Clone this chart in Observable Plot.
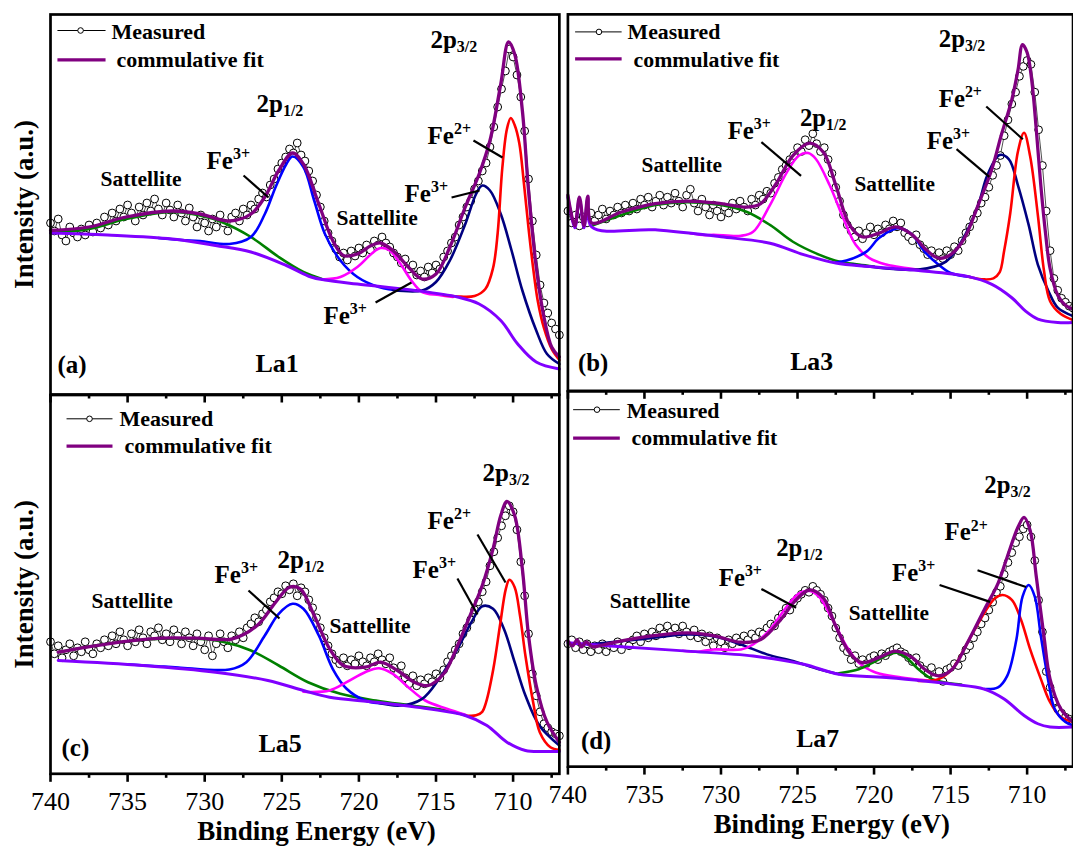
<!DOCTYPE html>
<html><head><meta charset="utf-8">
<script src="https://cdn.jsdelivr.net/npm/d3@7"></script>
<script src="https://cdn.jsdelivr.net/npm/@observablehq/plot@0.6"></script>
<style>
html,body{margin:0;padding:0;background:#fff;overflow:hidden}
#wrap{position:relative;width:1073px;height:847px;overflow:hidden;background:#fff}
#wrap svg{position:absolute;left:0;top:0}
</style></head><body><div id="wrap"></div>
<script>
// ---------- axis ----------
const energyStart = 740, energyStep = 0.25;
const xDomain = [740, 707];
const majorTicks = [740, 735, 730, 725, 720, 715, 710];
const minorTicks = [737.5, 732.5, 727.5, 722.5, 717.5, 712.5, 707.5];

// ---------- measured intensities (a.u.), 740 -> 707 eV, 0.25 eV step ----------
const measA = [170,162,174,158,152,166,160,156, 164,158,168,161,170,165,176,168, 180,172,184,176,188,180,172,186,
 178,190,182,194,184,178,190,183, 176,188,180,172,185,176,166,178, 170,162,174,166,178,170,162,176,
 180,172,184,178,188,184,194,200, 196,208,214,224,230,236,244,240, 250,238,232,222,212,198,186,172,
 160,152,144,136,140,133,142,137, 145,140,148,143,152,148,156,150, 146,140,136,130,134,124,128,118,
 122,116,126,120,128,124,136,142, 150,156,168,176,186,192,204,212, 222,230,246,266,286,304,322,344,
 336,318,296,262,214,172,138,108, 90,80,70,64,58];
const measB = [180,168,176,165,174,168,178,170, 176,182,172,180,176,184,178,186, 180,188,182,192,186,194,184,190,
 196,186,194,188,198,190,184,196, 202,188,180,192,184,176,186,180, 174,184,178,188,182,190,184,180,
 192,186,196,192,200,198,208,214, 222,226,232,236,244,240,252,246, 258,248,240,244,232,218,204,190,
 176,166,160,154,160,152,158,164, 156,162,158,166,162,170,164,168, 158,154,150,156,146,142,136,140,
 134,138,132,140,136,144,140,150, 158,164,172,178,188,194,204,216, 226,236,256,272,288,300,316,326,
 332,328,300,262,226,180,140,112, 100,92,88,84,82];
const measC = [132,120,128,116,124,130,118,126, 122,132,124,120,130,126,134,128, 138,130,142,134,128,140,132,144,
 136,130,142,138,146,134,140,132, 144,138,130,142,136,128,140,132, 124,138,118,130,140,132,126,138,
 134,142,136,146,150,156,152,160, 164,172,176,182,180,188,184,190, 178,186,182,174,166,156,146,136,
 128,120,114,110,116,108,114,110, 118,112,108,116,112,120,114,110, 116,106,100,108,96,90,98,88,
 94,90,96,92,100,96,104,112, 118,124,130,140,146,154,164,172, 182,192,208,222,236,248,258,268,
 262,244,212,178,140,100,78,62, 50,46,42,40,38];
const measD = [124,128,120,126,118,124,116,122, 118,124,116,122,120,126,118,124, 122,128,132,126,134,130,136,132,
 140,134,142,136,140,134,142,136, 132,138,130,134,126,132,122,130, 126,120,128,124,130,126,132,128,
 134,130,136,134,140,144,142,150, 154,160,158,166,170,174,178,176, 182,178,174,168,160,152,140,130,
 120,116,108,112,104,108,104,110, 112,108,114,112,116,118,120,116, 114,110,106,110,102,98,94,100,
 90,96,86,98,100,104,102,110, 118,122,130,136,144,150,158,166, 176,182,194,206,216,226,232,240,
 244,232,208,168,136,96,80,66, 58,54,50,48,46];

// ---------- fitted curves [eV, intensity] ----------
// (a) La1
const fitA = [[740,162.5],[737.5,166],[735.1,176],[732.1,182],[730.3,179],[728.4,172],[727,179],[726.1,196],[725.2,222.5],[724.3,240],[723.6,229],[722.6,189],[721.7,152.5],[721,137.5],[720.1,139],[719.2,147.5],[718.6,150],[717.8,142.5],[716.8,126],[715.9,114],[715,119],[714.1,146],[713.1,186],[712.2,219],[711.5,252.5],[710.8,309],[710.3,351],[709.9,339],[709.4,282.5],[709,202.5],[708.5,126],[708,76],[707.5,46],[707,36]];
const bgA = [[740,160],[736.3,158],[732.1,154],[729.3,147.5],[727,141],[724.7,127.5],[723.1,116],[722.2,113],[720.1,109],[716.6,103],[713.6,96],[712.2,89],[710.8,72.5],[709.7,49],[708.5,31],[707,24]];
const greenA = [[740,160],[737.5,164],[735.1,174],[732.1,181],[730.3,177.5],[728.9,171],[727,156],[725.2,136],[723.6,121],[722.4,114]];
const blueA = [[733,155],[731.5,153],[730.3,152],[728.4,149],[727,156],[726.1,179],[725.4,206],[724.7,229],[724.3,236.5],[723.6,226],[722.9,192.5],[722.2,159],[721.2,132.5],[720.1,116],[718.7,106],[717.3,102.5],[716.1,103]];
const magentaA = [[722.4,113.5],[721.2,116],[720.1,126],[719.2,139],[718.6,145],[718,142.5],[717.3,129],[716.6,112.5],[715.9,101],[714.8,98],[713.9,96]];
const navyA = [[717.8,103],[715.9,102.5],[715,111],[714.1,132.5],[713.1,169],[712.4,199],[712,207.5],[711.5,202.5],[710.8,179],[710.1,142.5],[709.4,102.5],[708.5,62.5],[707.8,39],[707,29]];
const redA = [[714.5,98],[713.6,96.5],[712.5,97],[711.8,104],[711.3,125],[711,160],[710.7,225],[710.4,264],[710.15,275],[709.9,268],[709.6,250],[709.3,210],[709,165],[708.7,125],[708.4,92],[708,65],[707.5,44],[707,33]];
// (b) La3
const fitB = [[740,196],[739.55,165],[739.25,194],[738.95,165],[738.7,195],[738.45,168],[736.5,179],[734.3,187.5],[732.2,190],[730,187.5],[728.3,184],[727.4,187.5],[726.4,207.5],[725.3,236],[724.2,248.5],[723.3,239],[722.5,206],[721.6,166],[720.8,154],[719.7,157.5],[718.6,164],[717.5,156],[716.7,142.5],[715.8,132.5],[715,136],[714.1,152.5],[713.2,186],[712.3,222.5],[711.7,256],[711,292.5],[710.6,322],[710.3,348],[710,340],[709.7,312],[709.4,262],[709.1,205],[708.8,158],[708.5,122],[708,95],[707.5,85],[707,81]];
const bgB = [[740,194],[739.55,163],[739.25,192],[738.95,163],[738.7,193],[738.45,164],[734.3,161],[730,154],[726.8,147.5],[724.6,136],[722.5,127.5],[720.3,124],[717.1,120],[713.9,114],[712.3,106],[711,92.5],[710.1,79],[709.3,71],[708,67.5],[707,67.5]];
const greenB = [[738.45,165],[736.5,176],[734.3,186],[732.2,189],[730,186],[728.3,179],[726.8,166],[725.3,149],[723.6,136],[722.3,129],[721,126],[720,124]];
const magentaB = [[732,157.5],[731,155.5],[730.5,156],[728.7,155],[727.9,159],[726.8,186],[725.7,219],[724.9,236],[724.3,238.5],[723.8,232.5],[722.9,206],[722,172.5],[721.2,146],[720.3,132.5],[719.2,126],[717.9,122.5],[716.5,119.5]];
const blueB = [[722.5,128],[721.8,130],[720.5,139],[719.7,152.5],[718.8,161],[718.3,162.5],[717.5,156],[716.7,139],[715.8,126],[715,117.5],[713.7,113.5]];
const navyB = [[721.4,126],[717.1,121],[715.3,129],[714.3,149],[713.2,186],[712.6,216],[711.8,236.5],[711.2,232.5],[710.6,206],[709.9,166],[709.3,126],[708.6,99],[708,82.5],[707,74]];
const redB = [[713.9,114],[712.8,111],[712.2,112],[711.8,118],[711.5,140],[711.1,178],[710.6,240],[710.2,259],[709.8,235],[709.3,176],[708.9,120],[708.5,89],[707.8,76],[707,70]];
// (c) La5
const fitC = [[739.5,121.6],[736.3,130],[732.8,135.6],[730.5,135.6],[728.2,135],[726.6,148.3],[725.4,171.6],[724.5,186.6],[723.8,185],[722.9,158.3],[721.9,125],[721,108.3],[719.6,106.6],[718.6,111.6],[717.5,103.3],[716.4,91.6],[715.5,88.3],[714.5,100],[713.6,128.3],[712.7,161.6],[712,188.3],[711.3,225],[710.8,258.3],[710.4,272.3],[709.9,258.3],[709.4,205],[709,138.3],[708.5,88.3],[707.8,51.6],[707,31.6]];
const bgC = [[739.5,113.3],[734,108.3],[729.3,101.6],[725.9,93.3],[723.6,83.3],[721.9,76.6],[718.9,71.6],[715.5,65],[713.1,58.3],[711.7,48.3],[710.4,31.6],[709.2,23.3],[708,22.3],[707,22.3]];
const greenC = [[739.5,121.6],[736.3,130],[732.8,135],[730.5,135],[728.7,131.6],[727,123.3],[725.2,108.3],[723.3,91.6],[721.2,80],[718.9,73.3],[716.6,68.3],[714.3,63.3],[713.1,58.5]];
const blueC = [[735,109.5],[733,107.5],[731.7,106.3],[728.4,104.3],[727.3,111.6],[726.1,138.3],[725.2,160],[724.3,170],[723.6,165],[722.6,138.3],[721.7,105],[720.8,85],[719.6,73.3],[718.2,70]];
const magentaC = [[723.6,82],[721.9,83.3],[720.8,91.6],[719.6,101.6],[718.7,105.6],[717.8,100],[716.8,86.6],[715.7,73.3],[714.3,65],[713.1,59]];
const navyC = [[718.9,71.6],[717.3,68.3],[715.9,75],[714.8,95],[713.6,125],[712.7,151.6],[712,167.6],[711.3,165],[710.6,145],[709.9,111.6],[709.2,78.3],[708.3,48.3],[707,28.3]];
const redC = [[713.1,58.3],[712.4,58.5],[712,62],[711.75,71.6],[711.28,105],[710.82,151.6],[710.47,185],[710.24,194],[709.9,186.6],[709.55,158],[709.2,118],[708.7,71.6],[708.27,41.6],[707.58,26.6],[707,24]];
// (d) La7
const fitD = [[740,127],[739.7,122],[739.4,128],[739.1,121],[738.8,126],[738.4,121],[737.6,123.3],[735.4,130],[732.2,135],[730.5,132.3],[728.7,125.6],[727.4,128.3],[726.1,148.3],[725.1,168.3],[724.2,178.3],[723.3,170],[722.5,141.6],[721.6,115],[720.8,105],[719.7,110],[718.6,116.6],[717.5,110],[716.7,98.3],[715.8,91.6],[714.9,98.3],[713.9,125],[712.8,158.3],[711.9,185],[711.3,211.6],[710.6,241.6],[710.2,251.6],[709.8,238.3],[709.4,191.6],[708.9,131.6],[708.5,88.3],[707.8,58.3],[707,45]];
const bgD = [[740,125],[736.5,121],[732.2,116.6],[727.9,111.6],[724.6,103.3],[722.3,93.3],[719.2,90],[714.9,83.3],[712.8,78.3],[711.5,68.3],[710.2,51.6],[709.3,43.3],[708.5,40],[707,40]];
const navyD = [[738.7,123.3],[735.4,128.3],[732.2,133.3],[730.5,131.6],[728.7,123.3],[727,113.3],[725.3,106.6],[723.6,98.3],[722.3,93.5]];
const magentaD = [[732.5,117],[731.5,116],[730.5,118.3],[728.7,118.3],[727.9,123.3],[726.8,138.3],[725.7,161.6],[724.9,175],[724.2,177.3],[723.6,171.6],[722.7,148.3],[721.8,121.6],[721,105],[719.9,95],[718.2,90],[716.4,86.6],[715,84]];
const greenD = [[722.3,94.3],[721,98.3],[719.9,106.6],[719,113.3],[718.5,115],[718,111.6],[717.1,98.3],[716.2,88.3],[715.4,85],[714.3,83]];
const redD = [[717.1,86.6],[715.8,88.3],[714.9,98.3],[713.9,125],[712.8,155],[712.1,170],[711.6,173.3],[711,168.3],[710.4,148.3],[709.8,118.3],[709.1,88.3],[708.5,65],[707.8,50],[707,45]];
const blueD = [[712.8,78.3],[711.9,80],[711.3,91.6],[710.7,128.3],[710.3,171.6],[709.9,183.3],[709.5,171.6],[709.1,131.6],[708.6,85],[708.2,58.3],[707.5,45],[707,41.6]];

// ---------- annotations ----------
const FE = 25, SAT = 21.5, LA = 26;
const annA = [{t:"2p_3/2",x:715.36,y:345.5,s:FE},{t:"2p_1/2",x:726.64,y:280.8,s:FE},{t:"Fe^3+",x:729.88,y:224.5,s:FE},
 {t:"Sattellite",x:736.76,y:207.5,s:SAT},{t:"Sattellite",x:721.45,y:168.5,s:SAT},{t:"Fe^3+",x:722.3,y:69.5,s:FE},
 {t:"Fe^3+",x:717.04,y:191.5,s:FE},{t:"Fe^2+",x:715.55,y:249.5,s:FE},{t:"La1",x:726.71,y:21,s:LA}];
const leadA = [[727.48,217.5,725.86,195.5],[718.92,90.5,716.59,110.5],[713.99,195.5,712.18,202.5],[712.57,252.5,710.69,235.5]];
const legA = {x1:739.55,x2:736.43,ym:362.5,cx:738.05,tx:736.04,ty:354.5,yf:333.2,fx:735.72,fy:326.5};

const annB = [{t:"2p_3/2",x:715.77,y:345.5,s:FE},{t:"Fe^3+",x:729.56,y:252.5,s:FE},{t:"2p_1/2",x:724.84,y:265.5,s:FE},
 {t:"Sattellite",x:735.19,y:219.5,s:SAT},{t:"Sattellite",x:721.28,y:200.5,s:SAT},{t:"Fe^2+",x:715.77,y:285.5,s:FE},
 {t:"Fe^3+",x:716.55,y:242.5,s:FE},{t:"La3",x:725.48,y:20,s:LA}];
const leadB = [[727.36,249.5,724.77,215.5],[712.67,285.5,710.28,252.5],[714.61,242.5,712.47,214.5]];
const legB = {x1:739.53,x2:736.49,ym:360.8,cx:737.97,tx:736.1,ty:353.5,yf:333.5,fx:735.71,fy:325.8};

const annC = [{t:"2p_3/2",x:711.98,y:293.3,s:FE},{t:"Fe^2+",x:715.55,y:245.3,s:FE},{t:"Fe^3+",x:716.52,y:196.3,s:FE},
 {t:"Fe^3+",x:729.36,y:191.3,s:FE},{t:"2p_1/2",x:725.28,y:206.3,s:FE},{t:"Sattellite",x:737.34,y:166.3,s:SAT},
 {t:"Sattellite",x:721.91,y:141.3,s:SAT},{t:"La5",x:726.51,y:22,s:LA}];
const leadC = [[712.31,239.3,710.49,191.3],[713.61,195.3,712.31,159.3],[727.16,183.3,725.15,155.3]];
const legC = {x1:738.96,x2:735.98,ym:355,cx:737.47,tx:735.53,ty:348.3,yf:327.6,fx:735.2,fy:321.3};

const annD = [{t:"2p_3/2",x:712.8,y:276.3,s:FE},{t:"Fe^2+",x:715.39,y:228.3,s:FE},{t:"Fe^3+",x:718.82,y:187.3,s:FE},
 {t:"Fe^3+",x:730.14,y:182.3,s:FE},{t:"2p_1/2",x:726.39,y:212.3,s:FE},{t:"Sattellite",x:737.26,y:160.3,s:SAT},
 {t:"Sattellite",x:721.66,y:148.3,s:SAT},{t:"La7",x:725.09,y:20,s:LA}];
const leadD = [[713.24,198.3,710.07,181.3],[715.72,183.3,712.42,166.3],[727.36,179.3,725.09,160.3]];
const legD = {x1:739.66,x2:736.61,ym:360.3,cx:738.1,tx:736.16,ty:352.3,yf:331.6,fx:735.84,fy:324.3};

const COL = {fit:"#800080", bg:"#8000ff", blue:"#0000ff", navy:"#000080", red:"#ff0000", magenta:"#ff00ff", green:"#008000"};

const panels = [
 {col:0,row:0,meas:measA,bg:bgA,fit:fitA,ann:annA,lead:leadA,leg:legA,tag:"(a)",tdx:7,tdy:358,
  comps:[[greenA,COL.green],[blueA,COL.blue],[magentaA,COL.magenta],[navyA,COL.navy],[redA,COL.red]]},
 {col:1,row:0,meas:measB,bg:bgB,fit:fitB,ann:annB,lead:leadB,leg:legB,tag:"(b)",tdx:10.3,tdy:360,
  comps:[[greenB,COL.green],[magentaB,COL.magenta],[blueB,COL.blue],[navyB,COL.navy],[redB,COL.red]]},
 {col:0,row:1,meas:measC,bg:bgC,fit:fitC,ann:annC,lead:leadC,leg:legC,tag:"(c)",tdx:11,tdy:360.5,
  comps:[[greenC,COL.green],[blueC,COL.blue],[magentaC,COL.magenta],[navyC,COL.navy],[redC,COL.red]]},
 {col:1,row:1,meas:measD,bg:bgD,fit:fitD,ann:annD,lead:leadD,leg:legD,tag:"(d)",tdx:13.3,tdy:361,
  comps:[[navyD,COL.navy],[magentaD,COL.magenta],[greenD,COL.green],[redD,COL.red],[blueD,COL.blue]]}
];

const FONT = "'Liberation Serif','Times New Roman',Times,serif";
const wrap = document.getElementById("wrap");

function richText(svg) {
  d3.select(svg).selectAll("text").each(function () {
    const s = this.textContent;
    const m = /^([^_^]+)([_^])(.+)$/.exec(s);
    if (!m) return;
    const el = d3.select(this);
    el.text(null);
    el.append("tspan").text(m[1]);
    el.append("tspan").attr("dy", m[2] === "^" ? -10 : 4).attr("font-size", 16).text(m[3]);
  });
}

for (const p of panels) {
  const L = p.col === 0
    ? {width:1073, marginLeft:50, marginRight:514.14}
    : {width:1083, marginLeft:572.7, marginRight:0.45};
  const T = p.row === 0
    ? {marginTop:14, marginBottom:453, yDomain:[-1.5, 378.5]}
    : {marginTop:394.5, marginBottom:73.7, yDomain:[0, 378.8]};
  const y0 = T.yDomain[0];
  const meas = p.meas.map((v, i) => ({E: energyStart - energyStep * i, I: v}));
  const pt = {x: d => d[0], y: d => d[1], curve: "catmull-rom"};
  const lg = [p.leg];
  const marks = [
    Plot.line(meas, {x:"E", y:"I", stroke:"black", strokeWidth:0.7}),
    Plot.dot(meas, {x:"E", y:"I", r:3.9, stroke:"black", fill:"white", strokeWidth:1}),
    ...p.comps.map(([pts, c]) => Plot.line(pts, {...pt, stroke:c, strokeWidth:2.6})),
    Plot.line(p.bg, {...pt, stroke:COL.bg, strokeWidth:3}),
    Plot.line(p.fit, {...pt, stroke:COL.fit, strokeWidth:3.3}),
    Plot.link(p.lead, {x1:d=>d[0], y1:d=>d[1], x2:d=>d[2], y2:d=>d[3], stroke:"black", strokeWidth:2.2}),
    Plot.text(p.ann, {x:"x", y:"y", text:"t", fontSize:d=>d.s, fontWeight:"bold", textAnchor:"start", lineAnchor:"bottom", fill:"black"}),
    // legend
    Plot.link(lg, {x1:d=>d.x1, x2:d=>d.x2, y1:d=>d.ym, y2:d=>d.ym, stroke:"black", strokeWidth:1}),
    Plot.dot(lg, {x:d=>d.cx, y:d=>d.ym, r:2.8, stroke:"black", fill:"white", strokeWidth:1}),
    Plot.link(lg, {x1:d=>d.x1, x2:d=>d.x2, y1:d=>d.yf, y2:d=>d.yf, stroke:COL.fit, strokeWidth:3.3}),
    Plot.text(lg, {x:d=>d.tx, y:d=>d.ty, text:()=>"Measured", fontSize:22, fontWeight:"bold", textAnchor:"start", lineAnchor:"bottom", fill:"black"}),
    Plot.text(lg, {x:d=>d.fx, y:d=>d.fy, text:()=>"commulative fit", fontSize:22, fontWeight:"bold", textAnchor:"start", lineAnchor:"bottom", fill:"black"}),
    // panel tag
    Plot.text([p.tag], {frameAnchor:"top-left", dx:p.tdx, dy:p.tdy, text:d=>d, fontSize:25, fontWeight:"bold", textAnchor:"start", lineAnchor:"bottom", fill:"black"}),
    // frame and ticks
    Plot.frame({stroke:"black", strokeWidth:2.7}),
    Plot.ruleX(majorTicks, {x:d=>d, y1:()=>y0, y2:()=>y0 - 8.5, stroke:"black", strokeWidth:2.6}),
    Plot.ruleX(minorTicks, {x:d=>d, y1:()=>y0, y2:()=>y0 - 4.5, stroke:"black", strokeWidth:2.6})
  ];
  if (p.row === 1) {
    marks.push(Plot.axisX({ticks: majorTicks, tickSize: 0, tickPadding: 18, fontSize: 26, tickFormat: d => String(d), label: null, fill:"black"}));
    marks.push(Plot.text(["Binding Energy (eV)"], {frameAnchor:"bottom", dx:11.5, dy:66.5, text:d=>d, fontSize:27, fontWeight:"bold", textAnchor:"middle", lineAnchor:"bottom", fill:"black"}));
  }
  if (p.col === 0) {
    marks.push(Plot.text(["Intensity (a.u.)"], {frameAnchor:"left", dx:-26.5, rotate:-90, text:d=>d, fontSize:27, fontWeight:"bold", textAnchor:"middle", lineAnchor:"middle", fill:"black"}));
  }
  const svg = Plot.plot({
    width: L.width, height: 847,
    marginLeft: L.marginLeft, marginRight: L.marginRight,
    marginTop: T.marginTop, marginBottom: T.marginBottom,
    x: {domain: xDomain, axis: p.row === 0 ? null : undefined},
    y: {domain: T.yDomain, axis: null},
    style: {fontFamily: FONT, background: "transparent", color: "black", overflow: "visible"},
    marks
  });
  richText(svg);
  wrap.appendChild(svg);
}
</script>
</body></html>
